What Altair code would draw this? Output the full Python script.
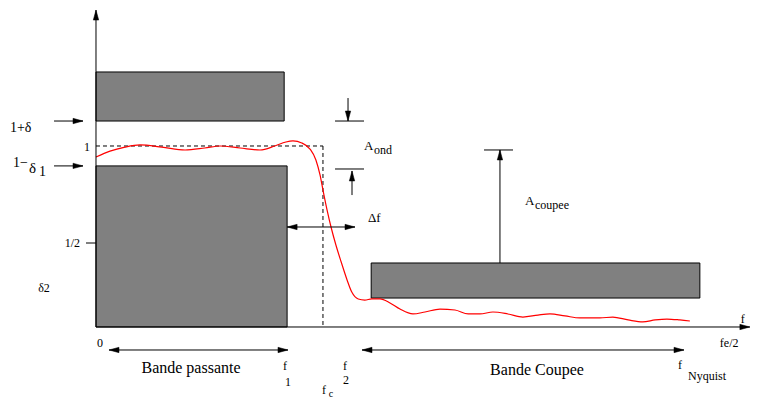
import altair as alt
import pandas as pd

# ---- coordinate frame: frequency (0 = origin, 1 = f_Nyquist), amplitude (1 = nominal gain)
X_DOM = [-0.14966, 1.11565]
Y_DOM = [-0.39227, 1.76243]

# ---- template boxes (gray)
box_x = [0.0, 0.0, 0.468]
box_x2 = [0.32, 0.325, 1.027]
box_y = [1.138, 0.0, 0.160]
box_y2 = [1.409, 0.89, 0.3536]

# ---- filter response (red curve)
resp_f = [0.0, 0.0238, 0.0493, 0.0748, 0.112, 0.1514, 0.185, 0.211, 0.245, 0.279,
          0.304, 0.323, 0.335, 0.350, 0.364, 0.374, 0.381, 0.386, 0.393, 0.3997,
          0.408, 0.417, 0.427, 0.435, 0.446, 0.457, 0.469, 0.483, 0.5, 0.517,
          0.539, 0.5595, 0.585, 0.6105, 0.633, 0.653, 0.675, 0.7007, 0.726, 0.7517,
          0.772, 0.7976, 0.823, 0.857, 0.879, 0.905, 0.930, 0.951, 0.971, 0.993, 1.010]
resp_a = [0.939, 0.972, 0.994, 1.006, 0.994, 0.978, 0.989, 1.0, 0.989, 0.978,
          1.0, 1.022, 1.028, 1.017, 0.983, 0.923, 0.840, 0.757, 0.646, 0.5525,
          0.453, 0.359, 0.260, 0.193, 0.155, 0.149, 0.155, 0.155, 0.133, 0.099,
          0.072, 0.083, 0.099, 0.094, 0.072, 0.072, 0.083, 0.072, 0.055, 0.066,
          0.072, 0.061, 0.050, 0.050, 0.055, 0.039, 0.028, 0.039, 0.044, 0.039, 0.033]

# ---- solid segments (axes, arrow shafts, caps, ticks)
seg_x = [0.0, 0.0, -0.0714, -0.0714, -0.017, 0.0221, 0.4524, 0.325, 0.4065, 0.4065,
         0.4286, 0.4354, 0.6599, 0.687]
seg_y = [0.0, 0.0, 1.138, 0.89, 0.464, -0.127, -0.127, 0.5525, 1.138, 0.873,
         1.265, 0.729, 0.978, 0.3536]
seg_x2 = [0.0, 1.112, -0.0221, -0.0221, 0.0, 0.3265, 1.0, 0.4405, 0.4558, 0.4558,
          0.4286, 0.4354, 0.7092, 0.687]
seg_y2 = [1.751, 0.0, 1.138, 0.89, 0.464, -0.127, -0.127, 0.5525, 1.138, 0.873,
          1.138, 0.862, 0.978, 0.978]

# ---- dashed segments (unit gain line and cutoff frequency)
dash_x = [0.0, 0.386]
dash_y = [1.0, 1.0]
dash_x2 = [0.386, 0.386]
dash_y2 = [1.0, 0.0]

# ---- arrowheads (tip position and direction in degrees, clockwise from right)
head_x = [0.0, 1.112, -0.0221, -0.0221, 0.0221, 0.3265, 0.4524, 1.0, 0.325, 0.4405,
          0.4286, 0.4354, 0.687]
head_y = [1.751, 0.0, 1.138, 0.89, -0.127, -0.127, -0.127, -0.127, 0.5525, 0.5525,
          1.138, 0.862, 0.978]
head_dir = [270, 0, 0, 0, 180, 0, 180, 0, 180, 0, 90, 270, 270]

# ---- text labels
lab_text = ["1+δ", "1−", "δ", "1", "1", "1/2", "δ2", "0",
            "Bande passante", "f", "1", "f", "2", "f", "c",
            "Bande Coupee", "f", "Nyquist", "fe/2", "f",
            "Δf", "A", "ond", "A", "coupee"]
lab_x = [-0.1463, -0.1412, -0.1139, -0.0969, -0.0102, -0.0272, -0.0884, 0.0068,
         0.1616, 0.3214, 0.3265, 0.4235, 0.425, 0.3844, 0.396,
         0.75, 0.993, 1.0068, 1.061, 1.1,
         0.4626, 0.4558, 0.4728, 0.7296, 0.7466]
lab_y = [1.102, 0.906, 0.878, 0.856, 0.994, 0.464, 0.2155, -0.0884,
         -0.2265, -0.2155, -0.304, -0.2155, -0.293, -0.348, -0.368,
         -0.2376, -0.21, -0.2707, -0.0884, 0.044,
         0.602, 1.0, 0.978, 0.696, 0.674]
lab_align = ["left", "left", "left", "left", "right", "right", "center", "center",
             "center", "center", "center", "center", "center", "left", "left",
             "center", "center", "left", "left", "center",
             "left", "left", "left", "left", "left"]
lab_size = [14, 14, 15, 14, 12, 12, 12, 12,
            16, 12, 12, 12, 12, 12, 10,
            16, 12, 12, 12, 12,
            13, 13, 12, 13, 12]

SERIF = "Times New Roman, Liberation Serif, DejaVu Serif, serif"

xs = alt.Scale(domain=X_DOM, nice=False, zero=False)
ys = alt.Scale(domain=Y_DOM, nice=False, zero=False)

boxes = pd.DataFrame({"x": box_x, "x2": box_x2, "y": box_y, "y2": box_y2})
resp = pd.DataFrame({"f": resp_f, "a": resp_a})
segs = pd.DataFrame({"x": seg_x, "y": seg_y, "x2": seg_x2, "y2": seg_y2})
dashes = pd.DataFrame({"x": dash_x, "y": dash_y, "x2": dash_x2, "y2": dash_y2})
heads = pd.DataFrame({"x": head_x, "y": head_y, "d": head_dir})
labels = pd.DataFrame({"t": lab_text, "x": lab_x, "y": lab_y,
                       "al": lab_align, "s": lab_size})

rect_layer = alt.Chart(boxes).mark_rect(
    fill="#808080", stroke="black", strokeWidth=1
).encode(
    x=alt.X("x:Q", scale=xs, axis=None), x2="x2:Q",
    y=alt.Y("y:Q", scale=ys, axis=None), y2="y2:Q",
)

seg_layer = alt.Chart(segs).mark_rule(color="black", strokeWidth=1).encode(
    x=alt.X("x:Q", scale=xs, axis=None), x2="x2:Q",
    y=alt.Y("y:Q", scale=ys, axis=None), y2="y2:Q",
)

dash_layer = alt.Chart(dashes).mark_rule(
    color="black", strokeWidth=1, strokeDash=[4, 3]
).encode(
    x=alt.X("x:Q", scale=xs, axis=None), x2="x2:Q",
    y=alt.Y("y:Q", scale=ys, axis=None), y2="y2:Q",
)

curve_layer = alt.Chart(resp).mark_line(
    color="red", strokeWidth=1.2, interpolate="monotone"
).encode(
    x=alt.X("f:Q", scale=xs, axis=None),
    y=alt.Y("a:Q", scale=ys, axis=None),
    order="f:Q",
)

head_layer = alt.Chart(heads).mark_point(
    shape="M-1,-0.27L0,0L-1,0.27Z", filled=True, fill="black",
    stroke="black", strokeWidth=0.5, size=400, opacity=1
).encode(
    x=alt.X("x:Q", scale=xs, axis=None),
    y=alt.Y("y:Q", scale=ys, axis=None),
    angle=alt.Angle("d:Q", scale=None),
)

text_layers = []
for al in ["left", "center", "right"]:
    for s in sorted(set(lab_size)):
        sub = labels[(labels["al"] == al) & (labels["s"] == s)]
        if len(sub) == 0:
            continue
        text_layers.append(
            alt.Chart(sub).mark_text(
                align=al, baseline="middle", font=SERIF,
                fontSize=s, color="black"
            ).encode(
                x=alt.X("x:Q", scale=xs, axis=None),
                y=alt.Y("y:Q", scale=ys, axis=None),
                text="t:N",
            )
        )

chart = alt.layer(
    rect_layer, dash_layer, curve_layer, seg_layer, head_layer, *text_layers
).properties(
    width=744, height=390, padding=0,
    autosize=alt.AutoSizeParams(type="none"),
).configure_view(stroke=None)

chart.save("out.html", embed_options={"renderer": "svg", "actions": False})
